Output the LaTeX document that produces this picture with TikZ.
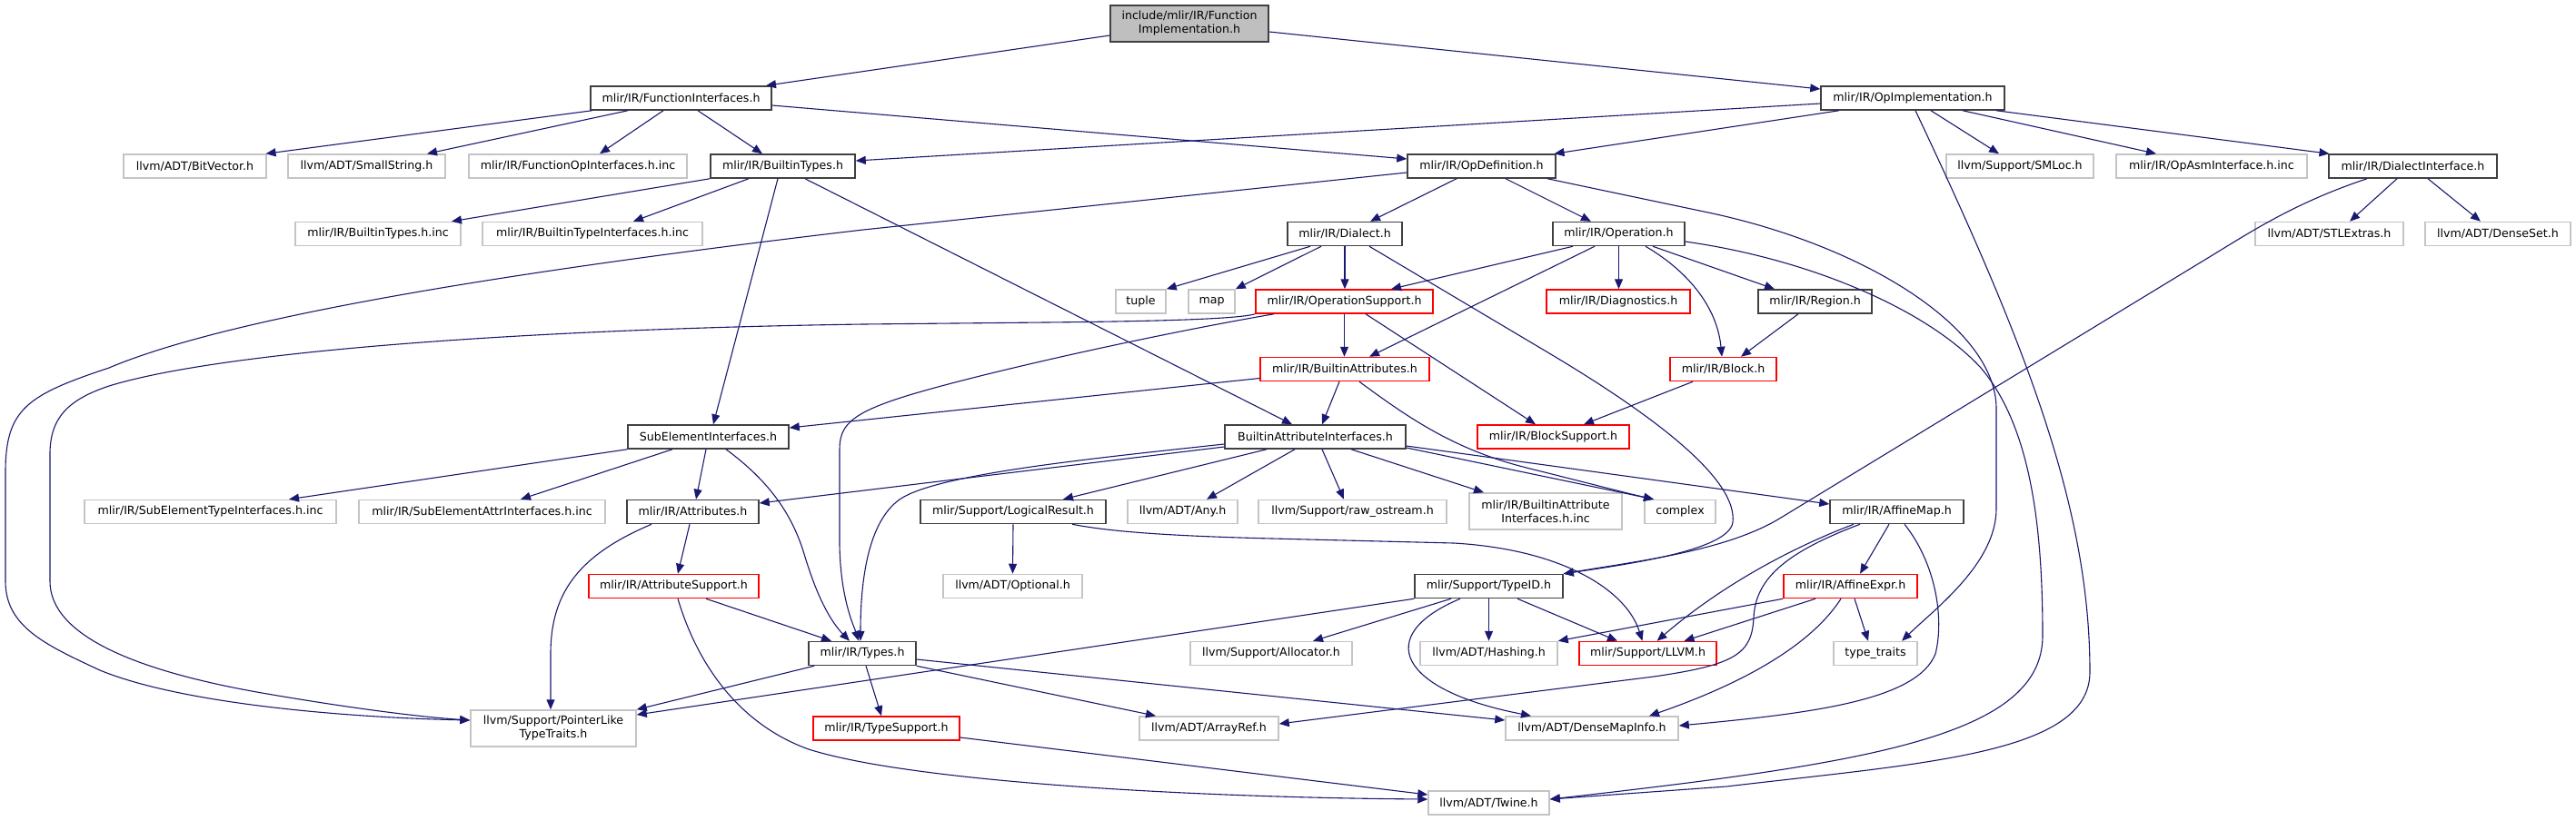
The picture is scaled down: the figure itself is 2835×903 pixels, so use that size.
\documentclass[tikz,border=0pt]{standalone}
\usepackage{fontspec}
\setmainfont{DejaVu Sans}
\usetikzlibrary{arrows.meta}
\definecolor{edgec}{HTML}{191970}
\definecolor{grayb}{HTML}{C4C4C4}
\definecolor{darkb}{HTML}{404040}
\definecolor{rootf}{HTML}{BFBFBF}
\definecolor{redb}{HTML}{FF0000}
\newcommand{\nfont}{\fontsize{12.6}{15}\selectfont}
\tikzset{
  nbase/.style={rectangle, inner sep=0pt, minimum height=26pt, line width=1.5pt, font=\nfont, align=center, fill=white},
  nb/.style={nbase, draw=darkb},
  ng/.style={nbase, draw=grayb},
  nr/.style={nbase, draw=redb},
  nroot/.style={nbase, draw=darkb, fill=rootf, minimum height=40pt},
  e/.style={draw=edgec, line width=1.1pt, -{Triangle[length=11pt,width=9pt]}}
}
\begin{document}
\begin{tikzpicture}[x=1pt,y=-1pt]
\useasboundingbox (0,0) rectangle (2835,903);
\fill[white] (0,0) rectangle (2835,903);
% nodes
\node[nroot, minimum width=174pt] (root) at (1309,26) {include/mlir/IR/Function\\Implementation.h};
\node[nb, minimum width=199pt] (fi) at (749.5,108) {mlir/IR/FunctionInterfaces.h};
\node[nb, minimum width=202pt] (opimpl) at (2105,108) {mlir/IR/OpImplementation.h};
\node[ng, minimum width=157pt] (bitvec) at (214.5,183) {llvm/ADT/BitVector.h};
\node[ng, minimum width=173pt] (smallstr) at (403.5,183) {llvm/ADT/SmallString.h};
\node[ng, minimum width=240pt] (funcopinc) at (636,183) {mlir/IR/FunctionOpInterfaces.h.inc};
\node[nb, minimum width=159pt] (btypes) at (861.5,183) {mlir/IR/BuiltinTypes.h};
\node[nb, minimum width=163pt] (opdef) at (1630.5,183) {mlir/IR/OpDefinition.h};
\node[ng, minimum width=162pt] (smloc) at (2223,183) {llvm/Support/SMLoc.h};
\node[ng, minimum width=210pt] (opasm) at (2434,183) {mlir/IR/OpAsmInterface.h.inc};
\node[nb, minimum width=185pt] (dialint) at (2655.5,183) {mlir/IR/DialectInterface.h};
\node[ng, minimum width=182pt] (btinc) at (416,257.5) {mlir/IR/BuiltinTypes.h.inc};
\node[ng, minimum width=242pt] (btiinc) at (652,257.5) {mlir/IR/BuiltinTypeInterfaces.h.inc};
\node[nb, minimum width=126pt] (dialect) at (1480,257.5) {mlir/IR/Dialect.h};
\node[nb, minimum width=145pt] (operation) at (1781.5,257.5) {mlir/IR/Operation.h};
\node[ng, minimum width=163pt] (stlext) at (2563.5,257.5) {llvm/ADT/STLExtras.h};
\node[ng, minimum width=160pt] (denseset) at (2749,257.5) {llvm/ADT/DenseSet.h};
\node[ng, minimum width=55pt] (tuple) at (1255.5,332) {tuple};
\node[ng, minimum width=51pt] (map) at (1333.5,332) {map};
\node[nr, minimum width=195pt] (opsup) at (1479.5,332) {mlir/IR/OperationSupport.h};
\node[nr, minimum width=158pt] (diag) at (1781,332) {mlir/IR/Diagnostics.h};
\node[nb, minimum width=125pt] (region) at (1997.5,332) {mlir/IR/Region.h};
\node[nr, minimum width=186pt] (battr) at (1480,406.5) {mlir/IR/BuiltinAttributes.h};
\node[nr, minimum width=117pt] (block) at (1896.5,406.5) {mlir/IR/Block.h};
\node[nb, minimum width=177pt] (sei) at (779.5,481) {SubElementInterfaces.h};
\node[nb, minimum width=199pt] (bai) at (1447.5,481) {BuiltinAttributeInterfaces.h};
\node[nr, minimum width=167pt] (blocksup) at (1709.5,481) {mlir/IR/BlockSupport.h};
\node[ng, minimum width=277pt] (seti) at (231.5,563.5) {mlir/IR/SubElementTypeInterfaces.h.inc};
\node[ng, minimum width=271pt] (seai) at (530.5,563.5) {mlir/IR/SubElementAttrInterfaces.h.inc};
\node[nb, minimum width=145pt] (attrs) at (762.5,563.5) {mlir/IR/Attributes.h};
\node[nb, minimum width=204pt] (lr) at (1115,563.5) {mlir/Support/LogicalResult.h};
\node[ng, minimum width=121pt] (any) at (1301.5,563.5) {llvm/ADT/Any.h};
\node[ng, minimum width=207pt] (rawos) at (1488.5,563.5) {llvm/Support/raw\_ostream.h};
\node[ng, minimum width=168pt, minimum height=40pt] (baiinc) at (1701,563) {mlir/IR/BuiltinAttribute\\Interfaces.h.inc};
\node[ng, minimum width=78pt] (complex) at (1849,563.5) {complex};
\node[nb, minimum width=147pt] (amap) at (2087.5,563.5) {mlir/IR/AffineMap.h};
\node[nr, minimum width=187pt] (asup) at (741.5,645.5) {mlir/IR/AttributeSupport.h};
\node[ng, minimum width=153pt] (optional) at (1114.5,645.5) {llvm/ADT/Optional.h};
\node[nb, minimum width=163pt] (typeid) at (1638.5,645.5) {mlir/Support/TypeID.h};
\node[nr, minimum width=147pt] (aexpr) at (2036.5,645.5) {mlir/IR/AffineExpr.h};
\node[nb, minimum width=118pt] (types) at (949,719.5) {mlir/IR/Types.h};
\node[ng, minimum width=178pt] (alloc) at (1399,719.5) {llvm/Support/Allocator.h};
\node[ng, minimum width=151pt] (hashing) at (1638.5,719.5) {llvm/ADT/Hashing.h};
\node[nr, minimum width=151pt] (llvm) at (1813.5,719.5) {mlir/Support/LLVM.h};
\node[ng, minimum width=92pt] (ttraits) at (2064,719.5) {type\_traits};
\node[ng, minimum width=182pt, minimum height=40pt] (plike) at (609,802) {llvm/Support/PointerLike\\TypeTraits.h};
\node[nr, minimum width=161pt] (tsup) at (975.5,802) {mlir/IR/TypeSupport.h};
\node[ng, minimum width=153pt] (aref) at (1330.5,802) {llvm/ADT/ArrayRef.h};
\node[ng, minimum width=190pt] (dmi) at (1752,802) {llvm/ADT/DenseMapInfo.h};
\node[ng, minimum width=133pt] (twine) at (1638.5,884) {llvm/ADT/Twine.h};
% edges
\draw[e] ([yshift=-13pt]root.west) -- ([xshift=93.5pt]fi.north);
\draw[e] ([yshift=-9pt]root.east) -- ([yshift=10pt]opimpl.west);
\draw[e] ([xshift=-98pt]fi.south) -- ([xshift=78pt]bitvec.north);
\draw[e] ([xshift=-58.5pt]fi.south) -- ([xshift=66.5pt]smallstr.north);
\draw[e] ([xshift=-19.5pt]fi.south) -- ([xshift=24pt]funcopinc.north);
\draw[e] ([xshift=18.5pt]fi.south) -- ([xshift=-22.5pt]btypes.north);
\draw[e] ([yshift=-8pt]fi.east) -- ([yshift=8pt]opdef.west);
\draw[e] ([yshift=-6pt]opimpl.west) -- ([yshift=6pt]btypes.east);
\draw[e] ([xshift=-81pt]opimpl.south) -- ([xshift=80pt]opdef.north);
\draw[e] ([xshift=20pt]opimpl.south) -- ([xshift=-23pt]smloc.north);
\draw[e] ([xshift=55pt]opimpl.south) -- ([xshift=-61pt]opasm.north);
\draw[e] ([xshift=92pt]opimpl.south) -- ([xshift=-92pt]dialint.north);
\draw[e] ([xshift=3pt]opimpl.south) .. controls (2230,380) and (2300,560) .. (2300,740) .. controls (2300,830) and (2120,840) .. (1900,866) -- ([yshift=4pt]twine.east);
\draw[e] ([yshift=-8.5pt]operation.east) .. controls (1990,285) and (2120,340) .. (2180,405) .. controls (2235,470) and (2248,580) .. (2248,700) .. controls (2248,810) and (2060,840) .. ([yshift=4pt]twine.east);
\draw[e] ([xshift=-17.5pt]dialint.south) -- ([xshift=22.5pt]stlext.north);
\draw[e] ([xshift=16.5pt]dialint.south) -- ([xshift=-19pt]denseset.north);
\draw[e] ([xshift=-50.5pt]dialint.south) .. controls (2520,225) and (2470,260) .. (2420,290) -- (1960,570) .. controls (1900,607) and (1800,618) .. (typeid.north east);
\draw[e] ([xshift=27pt]dialect.south) -- (1700,386) .. controls (1830,463) and (1912,530) .. (1907,575) .. controls (1903,605) and (1800,620) .. (typeid.north east);
\draw[e] ([xshift=-27.5pt]opdef.south) -- ([xshift=28pt]dialect.north);
\draw[e] ([xshift=26.5pt]opdef.south) -- ([xshift=-30.5pt]operation.north);
\draw[e] ([xshift=72.5pt]opdef.south) -- (1880,234) .. controls (2050,270) and (2197,360) .. (2197,450) -- (2197,560) .. controls (2197,620) and (2130,670) .. ([xshift=29pt]ttraits.north);
\draw[e] ([yshift=-7pt]opdef.west) -- (950,253) .. controls (550,300) and (250,350) .. (120,405) .. controls (30,435) and (6,450) .. (6,520) -- (6,640) .. controls (6,690) and (50,710) .. (110,738) .. controls (200,775) and (380,790) .. ([yshift=9pt]plike.west);
\draw[e] (opsup.south west) .. controls (1360,352) and (1250,354) .. (1150,355) -- (950,357) .. controls (600,362) and (250,385) .. (120,425) .. controls (75,440) and (55,460) .. (55,500) -- (55,640) .. controls (55,700) and (150,740) .. (300,765) .. controls (400,782) and (470,790) .. ([yshift=9pt]plike.west);
\draw[e] (btypes.south west) -- ([xshift=81pt]btinc.north);
\draw[e] ([xshift=-37.5pt]btypes.south) -- ([xshift=45pt]btiinc.north);
\draw[e] ([xshift=-5.5pt]btypes.south) -- ([xshift=5.5pt]sei.north);
\draw[e] ([xshift=24.5pt]btypes.south) -- ([xshift=-25.5pt]bai.north);
\draw[e] ([xshift=-38pt]dialect.south) -- (tuple.north east);
\draw[e] ([xshift=-26pt]dialect.south) -- (map.north east);
\draw[e] (dialect.south) -- ([xshift=0.5pt]opsup.north);
\draw[e] ([xshift=-50.5pt]operation.south) -- ([xshift=51.5pt]opsup.north);
\draw[e] ([xshift=-26.5pt]operation.south) -- ([xshift=27pt]battr.north);
\draw[e] (operation.south) -- ([xshift=0.5pt]diag.north);
\draw[e] ([xshift=29.5pt]operation.south) .. controls (1860,300) and (1890,340) .. ([xshift=-1.5pt]block.north);
\draw[e] ([xshift=37.5pt]operation.south) -- ([xshift=-44.5pt]region.north);
\draw[e] ([xshift=-18.5pt]region.south) -- ([xshift=19.5pt]block.north);
\draw[e] (opsup.south) -- ([xshift=-0.5pt]battr.north);
\draw[e] ([xshift=23.5pt]opsup.south) -- ([xshift=-19.5pt]blocksup.north);
\draw[e] ([xshift=-77.5pt]opsup.south) .. controls (1250,372) and (1050,418) .. (985,440) .. controls (935,457) and (924,470) .. (924,495) -- (924,600) .. controls (925,660) and (940,690) .. ([xshift=-4pt]types.north);
\draw[e] ([yshift=-10pt]battr.west) -- ([yshift=10pt]sei.east);
\draw[e] ([xshift=-6pt]battr.south) -- ([xshift=7.5pt]bai.north);
\draw[e] ([xshift=16pt]battr.south) .. controls (1550,460) and (1600,495) .. (1680,515) .. controls (1740,530) and (1790,543) .. ([xshift=-29pt]complex.north);
\draw[e] ([yshift=-11pt]bai.west) -- ([yshift=9.5pt]attrs.east);
\draw[e] ([yshift=-8pt]bai.west) .. controls (1200,505) and (1030,522) .. (990,550) .. controls (955,575) and (947,640) .. ([xshift=-2pt]types.north);
\draw[e] ([xshift=-53.5pt]bai.south) -- ([xshift=55pt]lr.north);
\draw[e] ([xshift=-22.5pt]bai.south) -- ([xshift=26.5pt]any.north);
\draw[e] ([xshift=7.5pt]bai.south) -- ([xshift=-9.5pt]rawos.north);
\draw[e] ([xshift=39.5pt]bai.south) -- ([xshift=-68pt]baiinc.north);
\draw[e] ([yshift=-12pt]bai.east) -- ([xshift=-29pt]complex.north);
\draw[e] ([yshift=-10pt]bai.east) -- ([yshift=8.5pt]amap.west);
\draw[e] (sei.south west) -- ([xshift=86.5pt]seti.north);
\draw[e] ([xshift=-39.5pt]sei.south) -- ([xshift=42.5pt]seai.north);
\draw[e] ([xshift=-2.5pt]sei.south) -- ([xshift=3.5pt]attrs.north);
\draw[e] ([xshift=19.5pt]sei.south) .. controls (840,525) and (870,560) .. (885,610) .. controls (900,660) and (915,685) .. ([xshift=-14pt]types.north);
\draw[e] ([xshift=-3.5pt]attrs.south) -- ([xshift=4.5pt]asup.north);
\draw[e] ([xshift=-45.5pt]attrs.south) .. controls (640,610) and (606,650) .. (606,720) -- ([xshift=-3pt]plike.north);
\draw[e] ([xshift=35.5pt]asup.south) -- ([xshift=-34pt]types.north);
\draw[e] ([xshift=4.5pt]asup.south) .. controls (770,740) and (820,800) .. (890,825) .. controls (1000,860) and (1300,878) .. ([yshift=4pt]twine.west);
\draw[e] ([xshift=-53pt]types.south) -- (plike.north east);
\draw[e] ([xshift=4pt]types.south) -- ([xshift=-5.5pt]tsup.north);
\draw[e] (types.south east) -- ([xshift=-58.5pt]aref.north);
\draw[e] ([yshift=-6.5pt]types.east) -- ([yshift=9pt]dmi.west);
\draw[e] (lr.south) -- (optional.north);
\draw[e] ([xshift=65pt]lr.south) .. controls (1220,585) and (1280,590) .. (1400,593) -- (1600,598) .. controls (1720,605) and (1790,650) .. ([xshift=-6pt]llvm.north);
\draw[e] (typeid.south west) -- ([yshift=15pt]plike.east);
\draw[e] ([xshift=-41.5pt]typeid.south) -- ([xshift=46pt]alloc.north);
\draw[e] (typeid.south) -- (hashing.north);
\draw[e] ([xshift=31.5pt]typeid.south) -- ([xshift=-33.5pt]llvm.north);
\draw[e] ([xshift=-31.5pt]typeid.south) .. controls (1510,700) and (1540,760) .. ([xshift=-67pt]dmi.north);
\draw[e] ([xshift=-8.5pt]amap.south) -- ([xshift=10.5pt]aexpr.north);
\draw[e] ([xshift=-47.5pt]amap.south) .. controls (1980,600) and (1900,640) .. ([xshift=10pt]llvm.north);
\draw[e] ([xshift=-40.5pt]amap.south) .. controls (1960,610) and (1932,640) .. (1930,680) .. controls (1928,720) and (1910,732) .. (1820,745) -- ([yshift=5pt]aref.east);
\draw[e] ([xshift=8.5pt]amap.south) .. controls (2130,620) and (2140,680) .. (2130,720) .. controls (2110,770) and (2000,785) .. ([yshift=3pt]dmi.east);
\draw[e] (aexpr.south west) -- (hashing.north east);
\draw[e] ([xshift=-38.5pt]aexpr.south) -- ([xshift=40pt]llvm.north);
\draw[e] ([xshift=-10.5pt]aexpr.south) .. controls (2000,700) and (1940,745) .. ([xshift=63pt]dmi.north);
\draw[e] ([xshift=4.5pt]aexpr.south) -- ([xshift=-8pt]ttraits.north);
\draw[e] ([xshift=-33.5pt]block.south) -- ([xshift=33.5pt]blocksup.north);
\draw[e] ([yshift=-10pt]tsup.east) -- ([yshift=9pt]twine.west);
\end{tikzpicture}
\end{document}
